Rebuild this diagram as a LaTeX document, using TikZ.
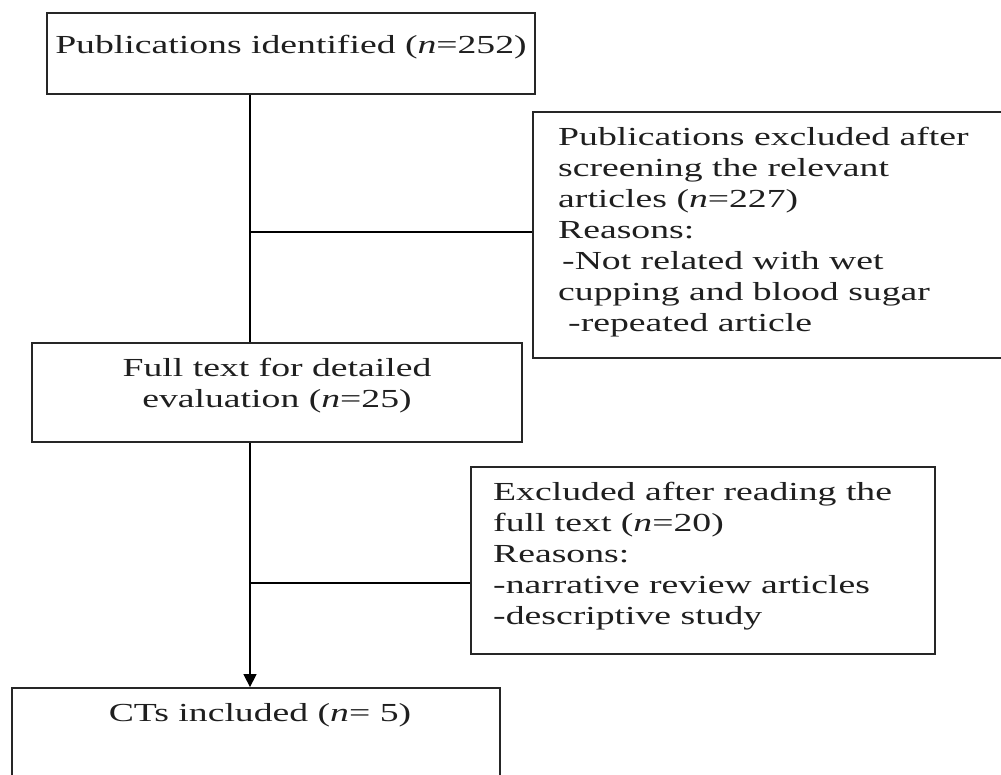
\documentclass[tikz,border=0pt]{standalone}
\usepackage{fontspec}
\setmainfont{Liberation Serif}[FakeStretch=1.45]
\usetikzlibrary{arrows.meta,calc}
\begin{document}
\begin{tikzpicture}[x=1pt,y=-1pt,
  box/.style={draw=black!85, line width=1.8pt, inner sep=0pt, rectangle},
  txt/.style={font=\fontsize{26}{31}\selectfont, inner sep=0pt, text=black!88},
  conn/.style={draw=black, line width=1.4pt},
  arr/.style={conn, -{Triangle[width=13pt,length=13pt]}}]
\useasboundingbox[fill=white] (0,0) rectangle (1001,774);
% boxes
\node[box, minimum width=488pt, minimum height=81pt] (b1) at (291,53.5) {};
\node[box, minimum width=480pt, minimum height=246pt] (b2) at (773,235) {};
\node[box, minimum width=490pt, minimum height=99pt] (b3) at (277,392.5) {};
\node[box, minimum width=464pt, minimum height=187pt] (b4) at (703,560.5) {};
\node[box, minimum width=488pt, minimum height=140pt] (b5) at (256,758) {};
% texts
\node[txt] (t1) at (291,47) {Publications identified (\textit{n}=252)};
\node[txt, anchor=north west, align=left] (t2) at (558,127)
  {Publications excluded after\\
   screening the relevant\\
   articles (\textit{n}=227)\\
   Reasons:\\
   \hspace*{4pt}-Not related with wet\\
   cupping and blood sugar\\
   \hspace*{10pt}-repeated article};
\node[txt, align=center] (t3) at (277,386)
  {Full text for detailed\\ evaluation (\textit{n}=25)};
\node[txt, anchor=north west, align=left] (t4) at (493,482)
  {Excluded after reading the\\
   full text (\textit{n}=20)\\
   Reasons:\\
   -narrative review articles\\
   -descriptive study};
\node[txt] (t5) at (260,715) {CTs included (\textit{n}= 5)};
% connectors
\coordinate (lx) at (250,0);
\coordinate (br1) at (0,232);
\coordinate (br2) at (0,583);
\draw[conn] (b1.south -| lx) -- (b3.north -| lx);
\draw[conn] (lx |- br1) -- (b2.west |- br1);
\draw[arr] (b3.south -| lx) -- (b5.north -| lx);
\draw[conn] (lx |- br2) -- (b4.west |- br2);
\end{tikzpicture}
\end{document}
